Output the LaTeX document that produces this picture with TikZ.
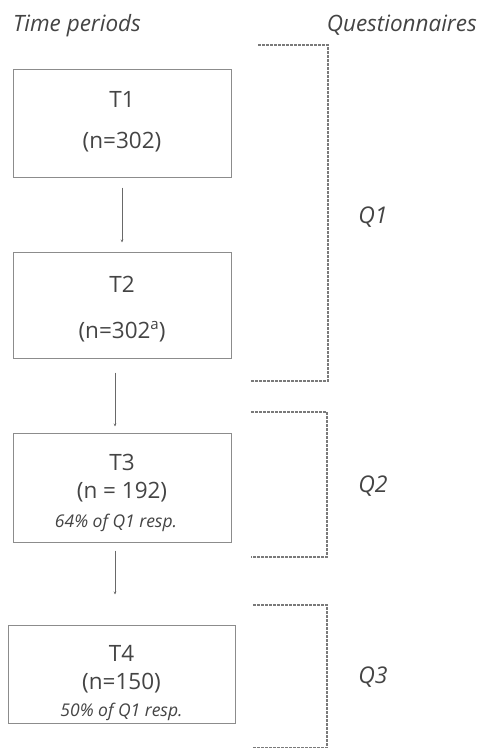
\documentclass[tikz,border=0pt]{standalone}
\usepackage{fontspec}
\setmainfont{Open Sans}
\usetikzlibrary{arrows.meta}
\definecolor{ink}{HTML}{444444}
\definecolor{frame}{HTML}{8C8C8C}
\definecolor{bracket}{HTML}{7A7A7A}
\newcommand{\supa}{\raisebox{9pt}{\fontsize{15}{15}\selectfont a}}
\tikzset{
  period/.style={draw=frame, line width=1pt, inner sep=0pt},
  big/.style={text=ink, anchor=base, inner sep=0pt, font=\fontsize{22.5}{27}\selectfont},
  small/.style={text=ink, anchor=base, inner sep=0pt, font=\fontsize{17.5}{21}\selectfont\itshape},
  flow/.style={draw=ink!80, line width=0.8pt, -{Stealth[length=3pt,width=2.5pt]}},
  brk/.style={draw=bracket, line width=1.1pt, dash pattern=on 3pt off 1pt},
  head/.style={text=ink, inner sep=0pt, font=\fontsize{22.5}{27}\selectfont\itshape},
  qlabel/.style={text=ink, anchor=base, inner sep=0pt, font=\fontsize{23}{27}\selectfont\itshape}
}
\begin{document}
\begin{tikzpicture}[x=1pt,y=1pt]
\useasboundingbox (0,0) rectangle (480,-749);
\fill[white] (0,0) rectangle (480,-749);

% column headings
\node[head, anchor=base west] (hT) at (13,-32) {Time periods};
\node[head, anchor=base east] (hQ) at (477,-32) {Questionnaires};

% time period boxes
\node[period, minimum width=218pt, minimum height=107pt] (t1) at (122,-123.5) {};
\node[period, minimum width=218pt, minimum height=106pt] (t2) at (122,-305) {};
\node[period, minimum width=218pt, minimum height=109pt] (t3) at (122,-487.5) {};
\node[period, minimum width=227pt, minimum height=98pt] (t4) at (121.5,-674) {};

% box contents
\node[big] (t1a) at (122,-107) {T1};
\node[big] (t1b) at (122,-148) {(n=302)};
\node[big] (t2a) at (122,-292.5) {T2};
\node[big] (t2b) at (122,-338) {(n=302\supa)};
\node[big] (t3a) at (122,-470) {T3};
\node[big] (t3b) at (122,-498) {(n = 192)};
\node[small] (t3c) at (116,-527) {64\% of Q1 resp.};
\node[big] (t4a) at (121.5,-661) {T4};
\node[big] (t4b) at (121.5,-689) {(n=150)};
\node[small] (t4c) at (121.5,-716) {50\% of Q1 resp.};

% arrows between periods
\draw[flow, shorten <=10pt, shorten >=9pt] (t1.south) -- (t2.north);
\draw[flow, shorten <=14pt, shorten >=6pt] ([xshift=-7pt]t2.south) -- ([xshift=-7pt]t3.north);
\draw[flow, shorten <=8pt, shorten >=30pt] ([xshift=-7pt]t3.south) -- ([xshift=-6.5pt]t4.north);

% questionnaire brackets
\draw[brk] (258,-45) -- (328,-45) -- (328,-381) -- (251,-381);
\draw[brk] (251,-412) -- (327,-412) -- (327,-557) -- (251,-557);
\draw[brk] (253,-605) -- (327,-605) -- (327,-747.5) -- (253,-747.5);

% questionnaire labels
\node[qlabel] (q1) at (373,-223) {Q1};
\node[qlabel] (q2) at (373,-492) {Q2};
\node[qlabel] (q3) at (373,-683) {Q3};
\end{tikzpicture}
\end{document}
